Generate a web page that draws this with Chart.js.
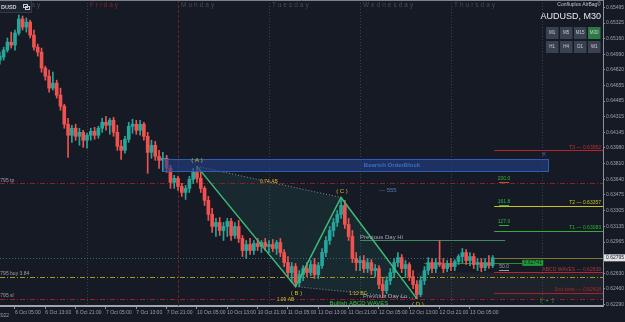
<!DOCTYPE html>
<html>
<head>
<meta charset="utf-8">
<script src="https://cdn.jsdelivr.net/npm/chart.js@4.4.0/dist/chart.umd.min.js"></script>
<style>
  html, body { margin: 0; padding: 0; background: #151a24; }
  #wrap { width: 625px; height: 322px; position: relative; }
</style>
</head>
<body>
<div id="wrap"><canvas id="chart"></canvas></div>
<script>
// AUDUSD M30 (drawn as hourly candles), x = trading hours since 6 Oct 00:00 (weekend removed)
const opens = [0.64926,0.64958,0.65034,0.65120,0.65088,0.65218,0.65369,0.65282,0.65336,0.65196,
  0.65066,0.65012,0.64840,0.64753,0.64624,0.64678,0.64548,0.64429,0.64235,0.64116,
  0.64192,0.64105,0.64148,0.64062,0.64116,0.64159,0.64116,0.64192,0.64256,0.64224,
  0.64278,0.64148,0.63997,0.63954,0.64073,0.64213,0.64235,0.64170,0.64235,0.64105,
  0.63932,0.64008,0.63889,0.63846,0.63868,0.63760,0.63608,0.63652,0.63565,0.63500,
  0.63544,0.63641,0.63727,0.63652,0.63544,0.63414,0.63263,0.63133,0.63176,0.63090,
  0.63133,0.63187,0.63036,0.63133,0.63004,0.62874,0.62939,0.62874,0.62950,0.62917,
  0.62960,0.62917,0.62939,0.62896,0.62960,0.62852,0.62744,0.62636,0.62701,0.62528,
  0.62615,0.62680,0.62636,0.62723,0.62615,0.62712,0.62852,0.62982,0.63090,0.63176,
  0.63263,0.63360,0.63155,0.63025,0.62788,0.62744,0.62766,0.62680,0.62744,0.62658,
  0.62680,0.62507,0.62442,0.62550,0.62636,0.62744,0.62798,0.62680,0.62723,0.62593,
  0.62507,0.62399,0.62550,0.62658,0.62744,0.62680,0.62744,0.62723,0.62680,0.62734,
  0.62701,0.62755,0.62809,0.62852,0.62766,0.62809,0.62723,0.62744,0.62690,0.62744,
  0.62712];
const highs = [0.65012,0.65066,0.65164,0.65228,0.65250,0.65412,0.65401,0.65380,0.65358,0.65250,
  0.65099,0.65056,0.64861,0.64818,0.64796,0.64710,0.64624,0.64451,0.64300,0.64224,
  0.64235,0.64192,0.64170,0.64138,0.64192,0.64202,0.64213,0.64300,0.64321,0.64300,
  0.64310,0.64224,0.64062,0.64105,0.64256,0.64289,0.64278,0.64278,0.64256,0.64148,
  0.64062,0.64051,0.63954,0.63932,0.63900,0.63792,0.63684,0.63673,0.63598,0.63576,
  0.63673,0.63760,0.63781,0.63716,0.63565,0.63457,0.63328,0.63220,0.63230,0.63176,
  0.63220,0.63220,0.63176,0.63198,0.63036,0.62982,0.63004,0.62982,0.63004,0.62982,
  0.63004,0.62982,0.62993,0.62982,0.63004,0.62885,0.62809,0.62744,0.62734,0.62658,
  0.62712,0.62744,0.62766,0.62788,0.62744,0.62896,0.63025,0.63133,0.63220,0.63306,
  0.63446,0.63414,0.63220,0.63090,0.62852,0.62809,0.62820,0.62788,0.62777,0.62723,
  0.62712,0.62572,0.62593,0.62680,0.62788,0.62852,0.62831,0.62766,0.62744,0.62658,
  0.62550,0.62593,0.62701,0.62798,0.62788,0.62788,0.62982,0.62788,0.62766,0.62788,
  0.62777,0.62831,0.62896,0.62885,0.62852,0.62842,0.62788,0.62788,0.62788,0.62820,
  0.62820];
const lows = [0.64883,0.64926,0.65012,0.65056,0.65034,0.65196,0.65250,0.65228,0.65164,0.65034,
  0.64969,0.64796,0.64710,0.64580,0.64602,0.64516,0.64386,0.64192,0.63878,0.64040,
  0.64062,0.64008,0.63986,0.63976,0.64062,0.64073,0.64084,0.64148,0.64170,0.64127,
  0.64105,0.63954,0.63857,0.63922,0.64040,0.64138,0.64127,0.64116,0.64062,0.63706,
  0.63868,0.63846,0.63760,0.63727,0.63716,0.63544,0.63544,0.63522,0.63457,0.63425,
  0.63500,0.63598,0.63608,0.63500,0.63360,0.63198,0.63068,0.63025,0.63036,0.62982,
  0.63025,0.62982,0.63004,0.62960,0.62809,0.62788,0.62831,0.62831,0.62874,0.62852,
  0.62874,0.62852,0.62863,0.62831,0.62809,0.62701,0.62593,0.62528,0.62485,0.62485,
  0.62550,0.62593,0.62604,0.62572,0.62572,0.62680,0.62809,0.62939,0.63025,0.63133,
  0.63220,0.63112,0.62982,0.62744,0.62658,0.62658,0.62636,0.62636,0.62615,0.62593,
  0.62464,0.62366,0.62410,0.62507,0.62593,0.62701,0.62636,0.62582,0.62550,0.62464,
  0.62356,0.62377,0.62507,0.62615,0.62636,0.62636,0.62701,0.62636,0.62647,0.62658,
  0.62658,0.62723,0.62744,0.62723,0.62712,0.62680,0.62658,0.62647,0.62658,0.62680,
  0.62690];
const closes = [0.64969,0.65034,0.65120,0.65088,0.65218,0.65369,0.65282,0.65336,0.65196,0.65066,
  0.65012,0.64840,0.64753,0.64624,0.64678,0.64548,0.64429,0.64235,0.64116,0.64192,
  0.64105,0.64148,0.64062,0.64116,0.64159,0.64116,0.64192,0.64256,0.64224,0.64278,
  0.64148,0.63997,0.63954,0.64073,0.64213,0.64235,0.64170,0.64235,0.64105,0.63932,
  0.64008,0.63889,0.63846,0.63868,0.63760,0.63608,0.63652,0.63565,0.63500,0.63544,
  0.63641,0.63727,0.63652,0.63544,0.63414,0.63263,0.63133,0.63176,0.63090,0.63133,
  0.63187,0.63036,0.63133,0.63004,0.62874,0.62939,0.62874,0.62950,0.62917,0.62960,
  0.62917,0.62939,0.62896,0.62960,0.62852,0.62744,0.62636,0.62701,0.62528,0.62615,
  0.62680,0.62636,0.62723,0.62615,0.62712,0.62852,0.62982,0.63090,0.63176,0.63263,
  0.63360,0.63155,0.63025,0.62788,0.62744,0.62766,0.62680,0.62744,0.62658,0.62680,
  0.62507,0.62442,0.62550,0.62636,0.62744,0.62798,0.62680,0.62723,0.62593,0.62507,
  0.62399,0.62550,0.62658,0.62744,0.62680,0.62744,0.62723,0.62680,0.62734,0.62701,
  0.62755,0.62809,0.62852,0.62766,0.62809,0.62723,0.62744,0.62690,0.62744,0.62712,
  0.62795];
const firstHour = 1;
const hours = opens.map((_, i) => firstHour + i);

// axis ticks
const xTickHours = [5, 13, 21, 29, 37, 45, 53, 61, 69, 77, 85, 93, 101, 109, 117, 125];
const xTickLabels = ['6 Oct 05:00','6 Oct 13:00','6 Oct 21:00','7 Oct 05:00','7 Oct 13:00','7 Oct 21:00',
  '10 Oct 05:00','10 Oct 13:00','10 Oct 21:00','11 Oct 05:00','11 Oct 13:00','11 Oct 21:00',
  '12 Oct 05:00','12 Oct 13:00','12 Oct 21:00','13 Oct 05:00'];
const yTickValues = [0.65495,0.65325,0.65160,0.64990,0.64820,0.64655,0.64485,0.64315,0.64145,0.63980,
  0.63810,0.63640,0.63475,0.63305,0.63135,0.62965,0.62630,0.62460,0.62290];
const xMin = 1.045, xMax = 160.1;
const yMin = 0.62276, yMax = 0.65574;

// day separators
const daySepHours = [0, 24, 48, 72, 96, 120, 144];
const dayNames = ['Thursday', 'Friday', 'Monday', 'Tuesday', 'Wednesday', 'Thursday', ''];

// ABCD pattern
const patternNames = ['A', 'B', 'C', 'D'];
const patternHours = [53, 79, 91, 111];
const patternPrices = [0.63781, 0.62485, 0.63446, 0.62356];

// trade lines across the chart
const tradeLevels = [0.63598, 0.62593, 0.62356];
const tradeNames = ['#48795 tp', '#48795 buy 3.84', '#48795 sl'];
const bidPrice = 0.62795;

// projected targets
const targetStartHour = 131.4;
const targetLevels = [0.63952, 0.63357, 0.63083, 0.62639, 0.62418];
const targetNames = ['T3 — 0.63952', 'T2 — 0.63357', 'T1 — 0.63083', 'ABCD WAVES — 0.62639', '2nd zone — 0.62418'];
const fibNames = ['200.0', '161.8', '127.0', '50.0'];
const fibPrices = [0.63645, 0.63397, 0.63182, 0.62697];

// misc zones
const orderBlock = { from: 44.1, to: 145.6, low: 0.63727, high: 0.63857 };
const prevDayHi = { price: 0.62982, from: 96, to: 134.3 };
const entryLine = { price: 0.62741, from: 113, to: 138.8 };
const zone = { from: 111, low: 0.62356, high: 0.62639 };

const BULL = '#26a69a', BEAR = '#ef5350';
const candleColors = closes.map((c, i) => c >= opens[i] ? BULL : BEAR);
const FONT = '"Liberation Sans", Arial, sans-serif';
Chart.defaults.font.family = FONT;

function txt(ctx, s, x, y, color, size, align, bold) {
  ctx.font = (bold ? 'bold ' : '') + size + 'px ' + FONT;
  ctx.fillStyle = color;
  ctx.textAlign = align || 'left';
  ctx.textBaseline = 'middle';
  ctx.fillText(s, x, y);
}
function hline(ctx, y, x0, x1, color, dash, w) {
  ctx.save();
  ctx.strokeStyle = color; ctx.lineWidth = w || 1; ctx.setLineDash(dash || []);
  ctx.beginPath(); ctx.moveTo(x0, Math.round(y) + 0.5); ctx.lineTo(x1, Math.round(y) + 0.5); ctx.stroke();
  ctx.restore();
}

const overlay = {
  id: 'overlay',
  beforeDatasetsDraw(chart) {
    const { ctx, chartArea: a, scales: { x, y } } = chart;
    ctx.save();
    ctx.beginPath(); ctx.rect(a.left, a.top, a.right - a.left, a.bottom - a.top); ctx.clip();

    // day separators
    daySepHours.forEach((h, i) => {
      const px = Math.round(x.getPixelForValue(h)) + 0.5;
      ctx.save();
      ctx.strokeStyle = dayNames[i] === 'Monday' ? '#6e2028' : '#3a404c';
      ctx.setLineDash(dayNames[i] === 'Monday' ? [3, 2] : [1, 2]);
      ctx.beginPath(); ctx.moveTo(px, a.top); ctx.lineTo(px, a.bottom); ctx.stroke();
      ctx.restore();
    });

    // lower zone
    const zx = x.getPixelForValue(zone.from);
    ctx.fillStyle = 'rgba(255,255,255,0.035)';
    ctx.fillRect(zx, y.getPixelForValue(zone.high), a.right - zx, y.getPixelForValue(zone.low) - y.getPixelForValue(zone.high));

    // ABCD triangles
    const pts = patternHours.map((h, i) => [x.getPixelForValue(h), y.getPixelForValue(patternPrices[i])]);
    ctx.fillStyle = 'rgba(45,140,125,0.14)';
    [[0, 1, 2], [1, 2, 3]].forEach(t => {
      ctx.beginPath();
      t.forEach((k, j) => j ? ctx.lineTo(pts[k][0], pts[k][1]) : ctx.moveTo(pts[k][0], pts[k][1]));
      ctx.closePath(); ctx.fill();
    });

    // trade lines
    const tradeStyles = [['#8e1e26', [5, 2, 1, 2]], ['#a8981a', [5, 2, 1, 2]], ['#9a1e26', [5, 2, 1, 2]]];
    tradeLevels.forEach((p, i) => hline(ctx, y.getPixelForValue(p), a.left, a.right, tradeStyles[i][0], tradeStyles[i][1]));
    hline(ctx, y.getPixelForValue(bidPrice), a.left, a.right, '#2b6d6c', [1, 2]);

    // previous day high
    hline(ctx, y.getPixelForValue(prevDayHi.price), x.getPixelForValue(prevDayHi.from), x.getPixelForValue(prevDayHi.to), '#3f8a62');
    // entry line
    hline(ctx, y.getPixelForValue(entryLine.price), x.getPixelForValue(entryLine.from), x.getPixelForValue(entryLine.to), '#2c8a3c');

    // targets
    const tcol = ['#b8242e', '#c9c21c', '#2fae3a', '#b8242e', '#a82028'];
    const tx0 = x.getPixelForValue(targetStartHour);
    targetLevels.forEach((p, i) => hline(ctx, y.getPixelForValue(p), tx0, a.right, tcol[i], [], 1));
    hline(ctx, y.getPixelForValue(bidPrice), tx0, a.right, '#7d7a2c');
    ctx.restore();
  },
  afterDatasetsDraw(chart) {
    const { ctx, chartArea: a, scales: { x, y } } = chart;
    ctx.save();
    ctx.beginPath(); ctx.rect(0, 0, chart.width, a.bottom); ctx.clip();

    // order block
    const ox0 = x.getPixelForValue(orderBlock.from), ox1 = x.getPixelForValue(orderBlock.to);
    const oy0 = y.getPixelForValue(orderBlock.high), oy1 = y.getPixelForValue(orderBlock.low);
    ctx.fillStyle = 'rgba(34,66,138,0.62)';
    ctx.fillRect(ox0, oy0, ox1 - ox0, oy1 - oy0);
    ctx.strokeStyle = '#2f5cb4'; ctx.lineWidth = 1;
    ctx.strokeRect(Math.round(ox0) + 0.5, Math.round(oy0) + 0.5, Math.round(ox1 - ox0), Math.round(oy1 - oy0));
    txt(ctx, 'Bearish OrderBlock', 392, (oy0 + oy1) / 2, '#3d6ec8', 6, 'center', true);
    txt(ctx, 'X', ox1 - 4, oy0 - 5, '#3d6ec8', 6, 'center', false);

    // day names
    ctx.save();
    ctx.letterSpacing = '2px';
    daySepHours.forEach((h, i) => {
      if (!dayNames[i]) return;
      txt(ctx, dayNames[i], x.getPixelForValue(h) + 3, 5, dayNames[i] === 'Friday' ? '#7e2b2e' : '#464b56', 6.5, 'left', false);
    });
    ctx.restore();

    // trade labels at the left
    tradeLevels.forEach((p, i) => txt(ctx, tradeNames[i], -8, y.getPixelForValue(p) - 3, '#9aa0aa', 5, 'left'));

    // ABCD lines are datasets; labels here
    const pts = patternHours.map((h, i) => [x.getPixelForValue(h), y.getPixelForValue(patternPrices[i])]);
    const YEL = '#cdbb2a';
    txt(ctx, '( A )', pts[0][0], pts[0][1] - 6, YEL, 6, 'center');
    txt(ctx, '( B )', pts[1][0] + 1, pts[1][1] + 7, YEL, 6, 'center');
    txt(ctx, '( C )', pts[2][0] + 1, pts[2][1] - 6, YEL, 6, 'center');
    txt(ctx, '( D )', pts[3][0] + 1, pts[3][1] + 6, YEL, 6, 'center');
    txt(ctx, '0.74 AB', (pts[0][0] + pts[2][0]) / 2, (pts[0][1] + pts[2][1]) / 2, YEL, 5, 'center');
    txt(ctx, '1.12 BC', (pts[1][0] + pts[3][0]) / 2 + 2, (pts[1][1] + pts[3][1]) / 2 + 1, YEL, 5, 'center');
    txt(ctx, '1.09 AB', pts[1][0] - 10, pts[1][1] + 13, YEL, 5, 'center');
    txt(ctx, 'Bullish ABCD WAVES', (pts[2][0] + pts[3][0]) / 2 - 20, pts[3][1] + 5, '#3cc03c', 6, 'center');
    txt(ctx, 'Previous Day Lo', pts[2][0] + 22, pts[3][1] - 2, '#a4a8b0', 6, 'left');
    txt(ctx, 'Previous Day Hi', x.getPixelForValue(prevDayHi.from), y.getPixelForValue(prevDayHi.price) - 3, '#a4a8b0', 6, 'left');
    txt(ctx, '--- 555', pts[2][0] + 38, y.getPixelForValue(0.63520), '#5878b0', 6, 'left');

    // target labels
    const tcol = ['#c0303a', '#c9c21c', '#2fae3a', '#c0303a', '#b0282f'];
    targetLevels.forEach((p, i) => txt(ctx, targetNames[i], a.right - 2, y.getPixelForValue(p) - 3, tcol[i], 5, 'right'));
    const fcol = ['#35b040', '#35b040', '#35b040', '#9aa0aa'];
    fibPrices.forEach((p, i) => {
      const fx = x.getPixelForValue(134);
      const fy = y.getPixelForValue(p);
      txt(ctx, fibNames[i], fx, fy, fcol[i], 5, 'center');
      hline(ctx, fy + 3, fx - 5, fx + 5, i === 0 ? '#b85a20' : fcol[i]);
    });

    // entry price tag
    const ex = x.getPixelForValue(entryLine.to), ey = y.getPixelForValue(entryLine.price);
    ctx.fillStyle = '#1f9a3a';
    ctx.fillRect(ex, ey - 3, 21, 6);
    txt(ctx, entryLine.price.toFixed(5), ex + 10.5, ey, '#0d1a10', 5, 'center');

    txt(ctx, '[  +  ]', a.right - 56, a.bottom - 6, '#2fae3a', 6, 'center');

    // top-left symbol box
    ctx.fillStyle = '#1e2330'; ctx.fillRect(0, 0, 32, 13);
    ctx.strokeStyle = '#323846'; ctx.strokeRect(-0.5, 0.5, 32, 12);
    txt(ctx, 'DUSD', 1, 7, '#c8ccd4', 5.5, 'left', true);
    ctx.strokeStyle = '#c8ccd4'; ctx.strokeRect(23.5, 4.5, 4, 3); ctx.strokeRect(25.5, 6.5, 4, 3);

    // top-right panel
    txt(ctx, 'Confluplus AirBag©', 601, 5, '#c4c8d0', 5, 'right');
    txt(ctx, 'AUDUSD, M30', 601, 17, '#e6e8ec', 9, 'right');
    const btn = [['M1', 'M5', 'M15', 'M30'], ['H1', 'H4', 'D1', 'W1']];
    btn.forEach((row, r) => row.forEach((b, c) => {
      const bx = 546 + c * 14, by = 27 + r * 14;
      ctx.fillStyle = b === 'M30' ? '#2c7a43' : '#3a4252';
      ctx.fillRect(bx, by, 12.5, 12);
      txt(ctx, b, bx + 6.25, by + 6, '#c8ccd4', 4.5, 'center');
    }));
    // top border
    hline(ctx, 0, 0, a.right, '#7c828c');
    ctx.restore();

    // price tag on axis
    const by = y.getPixelForValue(bidPrice);
    ctx.fillStyle = '#dfe1e5';
    ctx.fillRect(a.right + 1, by - 3.5, 22, 7);
    txt(ctx, bidPrice.toFixed(5), a.right + 12, by, '#1a1e28', 5, 'center');

    // first date label, cut at the left edge
    txt(ctx, '5 Oct 2022', 9, a.bottom + 10, '#9aa0aa', 5, 'right');
  }
};

new Chart(document.getElementById('chart'), {
  type: 'bar',
  data: {
    datasets: [
      {
        label: 'Bodies', order: 2, grouped: false, barThickness: 3,
        data: hours.map((h, i) => ({ x: h, y: [opens[i], closes[i]] })),
        backgroundColor: candleColors, minBarLength: 1
      },
      {
        label: 'Wicks', order: 3, grouped: false, barThickness: 1,
        data: hours.map((h, i) => ({ x: h, y: [lows[i], highs[i]] })),
        backgroundColor: candleColors
      },
      {
        type: 'line', label: 'ABCD', order: 1,
        data: patternHours.map((h, i) => ({ x: h, y: patternPrices[i] })),
        borderColor: '#3dbb78', borderWidth: 1.5, pointRadius: 0, tension: 0
      },
      {
        type: 'line', label: 'AC', order: 1,
        data: [0, 2].map(i => ({ x: patternHours[i], y: patternPrices[i] })),
        borderColor: '#8a909c', borderWidth: 1, borderDash: [1, 2], pointRadius: 0
      },
      {
        type: 'line', label: 'BD', order: 1,
        data: [1, 3].map(i => ({ x: patternHours[i], y: patternPrices[i] })),
        borderColor: '#8a909c', borderWidth: 1, borderDash: [1, 2], pointRadius: 0
      }
    ]
  },
  options: {
    responsive: true, maintainAspectRatio: false, animation: false,
    layout: { padding: 0 },
    plugins: { legend: { display: false }, tooltip: { enabled: false } },
    scales: {
      x: {
        type: 'linear', min: xMin, max: xMax, offset: false,
        afterBuildTicks: s => { s.ticks = xTickHours.map(v => ({ value: v })); },
        afterFit: s => { s.height = 16; s.paddingLeft = 0; s.paddingRight = 0; },
        ticks: {
          autoSkip: false, maxRotation: 0, align: 'start', padding: 1,
          color: '#9aa0aa', font: { size: 5 },
          callback: (v, i) => xTickLabels[i]
        },
        grid: { display: true, drawOnChartArea: false, offset: false, tickLength: 3, color: '#8a9099' },
        border: { color: '#a0a5ad', width: 2 }
      },
      y: {
        position: 'right', min: yMin, max: yMax,
        afterBuildTicks: s => { s.ticks = yTickValues.map(v => ({ value: v })); },
        afterFit: s => { s.width = 22; s.paddingTop = 0; s.paddingBottom = 0; },
        ticks: {
          autoSkip: false, padding: 1, color: '#9aa0aa', font: { size: 5 },
          callback: v => v.toFixed(5)
        },
        grid: { display: true, drawOnChartArea: false, tickLength: 2, color: '#8a9099' },
        border: { color: '#8a9099', width: 1 }
      }
    }
  },
  plugins: [overlay]
});
</script>
</body>
</html>
